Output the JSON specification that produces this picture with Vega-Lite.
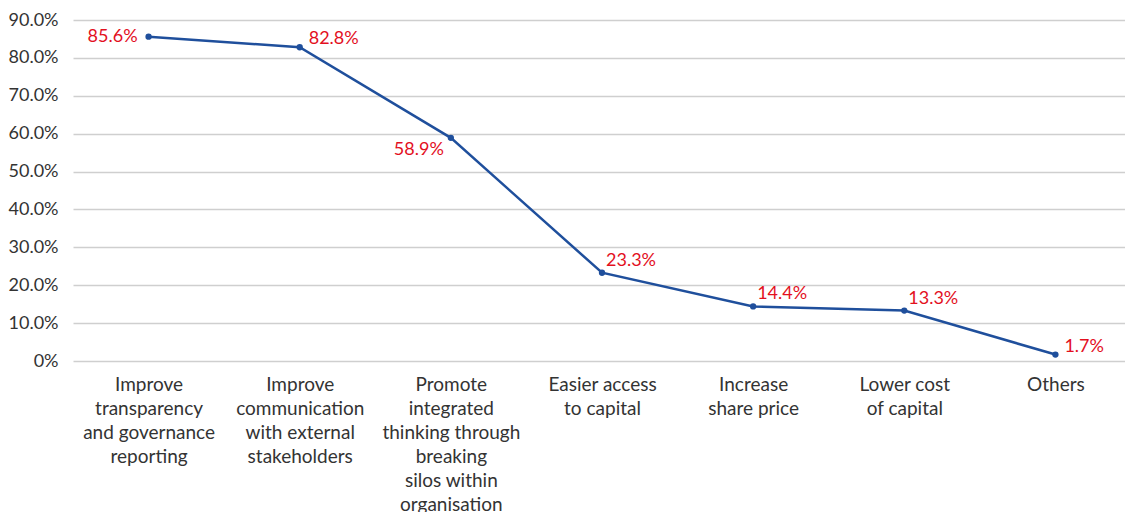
{
  "$schema": "https://vega.github.io/schema/vega-lite/v6.json",
  "width": 1052,
  "height": 341,
  "autosize": {"type": "none"},
  "padding": {"left": 73, "top": 20, "right": 0, "bottom": 151},
  "background": "white",
  "config": {
    "view": {"stroke": null},
    "font": "Lato",
    "axis": {"labelFont": "Lato", "labelColor": "#333333", "labelFontSize": 18, "domain": false, "ticks": false}
  },
  "data": {
    "values": [
      {"reason": "Improve|transparency|and governance|reporting", "pct": 0.856, "pos": "left"},
      {"reason": "Improve|communication|with external|stakeholders", "pct": 0.828, "pos": "right"},
      {"reason": "Promote|integrated|thinking through|breaking|silos within|organisation", "pct": 0.589, "pos": "below"},
      {"reason": "Easier access|to capital", "pct": 0.233, "pos": "above"},
      {"reason": "Increase|share price", "pct": 0.144, "pos": "above"},
      {"reason": "Lower cost|of capital", "pct": 0.133, "pos": "above"},
      {"reason": "Others", "pct": 0.017, "pos": "right"}
    ]
  },
  "encoding": {
    "x": {
      "field": "reason", "type": "nominal", "sort": null,
      "scale": {"paddingInner": 0, "paddingOuter": 0, "range": [0, 1058]},
      "axis": {"title": null, "labelAngle": 0, "labelExpr": "split(datum.value, '|')", "labelLineHeight": 24, "labelPadding": 14, "labelBaseline": "top", "grid": false, "labelFontSize": 19}
    },
    "y": {
      "field": "pct", "type": "quantitative",
      "scale": {"domain": [0, 0.9], "nice": false},
      "axis": {"title": null, "values": [0, 0.1, 0.2, 0.3, 0.4, 0.5, 0.6, 0.7, 0.8, 0.9], "labelExpr": "datum.value == 0 ? '0%' : format(datum.value, '.1%')", "gridColor": "#cfcfcf", "gridWidth": 1.5, "labelPadding": 15}
    }
  },
  "layer": [
    {"mark": {"type": "line", "color": "#1f4f9c", "strokeWidth": 2.5}},
    {"mark": {"type": "point", "filled": true, "color": "#1f4f9c", "size": 40, "opacity": 1}},
    {
      "transform": [{"filter": "datum.pos == 'left'"}],
      "mark": {"type": "text", "color": "#e3101e", "fontSize": 18, "align": "right", "baseline": "middle", "dx": -11, "dy": 0},
      "encoding": {"text": {"field": "pct", "type": "quantitative", "format": ".1%"}}
    },
    {
      "transform": [{"filter": "datum.pos == 'right'"}],
      "mark": {"type": "text", "color": "#e3101e", "fontSize": 18, "align": "left", "baseline": "middle", "dx": 9, "dy": -8},
      "encoding": {"text": {"field": "pct", "type": "quantitative", "format": ".1%"}}
    },
    {
      "transform": [{"filter": "datum.pos == 'below'"}],
      "mark": {"type": "text", "color": "#e3101e", "fontSize": 18, "align": "right", "baseline": "middle", "dx": -7, "dy": 12},
      "encoding": {"text": {"field": "pct", "type": "quantitative", "format": ".1%"}}
    },
    {
      "transform": [{"filter": "datum.pos == 'above'"}],
      "mark": {"type": "text", "color": "#e3101e", "fontSize": 18, "align": "left", "baseline": "middle", "dx": 4, "dy": -12},
      "encoding": {"text": {"field": "pct", "type": "quantitative", "format": ".1%"}}
    }
  ]
}
